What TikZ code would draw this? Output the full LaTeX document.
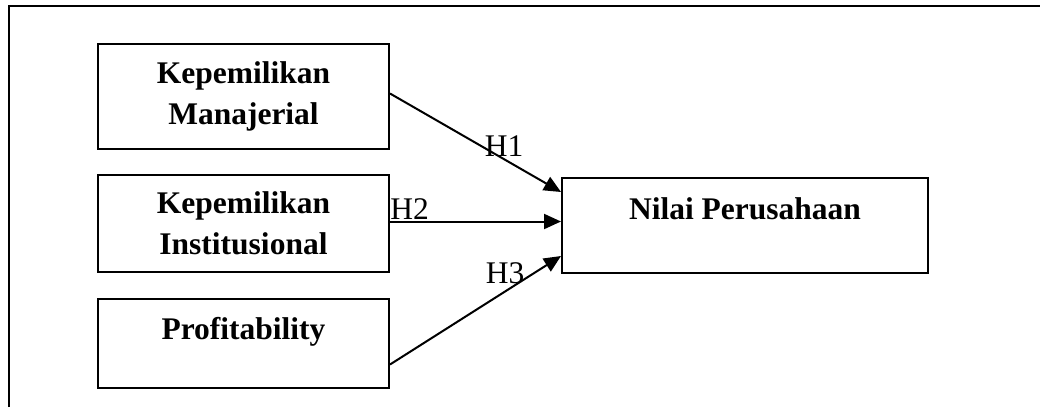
\documentclass[tikz,border=0pt]{standalone}
\usepackage{fontspec}
\setmainfont{Liberation Serif}
\usepackage{xcolor}
\usetikzlibrary{arrows.meta}

\begin{document}
\begin{tikzpicture}[x=1pt, y=-1pt,
    kotak/.style={draw, line width=2pt, align=center, inner sep=0pt,
        font=\fontsize{31.5}{41}\selectfont\bfseries},
    label h/.style={anchor=base, inner sep=0pt, font=\fontsize{31.5}{38}\selectfont},
    panah/.style={line width=2pt, -{Triangle[length=17pt, width=15pt]}}]
    \useasboundingbox (0,0) rectangle (1040,407);

    % Bingkai luar (hanya garis atas dan kiri terlihat)
    \draw[line width=2pt] (9,407) -- (9,6) -- (1040,6);

    % Variabel independen
    \node[kotak, minimum width=291pt, minimum height=105pt] (manajerial) at (243.5,96.5)
        {Kepemilikan\\Manajerial};
    \node[kotak, minimum width=291pt, minimum height=97pt] (institusional) at (243.5,223.5)
        {Kepemilikan\\Institusional};
    \node[kotak, minimum width=291pt, minimum height=89pt, text height=22pt, text depth=31pt]
        (profit) at (243.5,343.5) {Profitability};

    % Variabel dependen
    \node[kotak, minimum width=366pt, minimum height=95pt, text height=22pt, text depth=35pt]
        (nilai) at (745,225.5) {Nilai Perusahaan};

    % Hipotesis H1 - H3
    \draw[panah] ([yshift=3pt]manajerial.east) -- ([yshift=-15pt]nilai.north west);
    \draw[panah] ([yshift=2pt]institusional.east) -- ([yshift=2pt]institusional.east -| nilai.west);
    \draw[panah] ([yshift=-21pt]profit.east) -- ([yshift=18pt]nilai.south west);

    \node[label h] (h1) at (504,156) {H1};
    \node[label h] (h2) at (409.5,219) {H2};
    \node[label h] (h3) at (505,283) {H3};
\end{tikzpicture}
\end{document}
